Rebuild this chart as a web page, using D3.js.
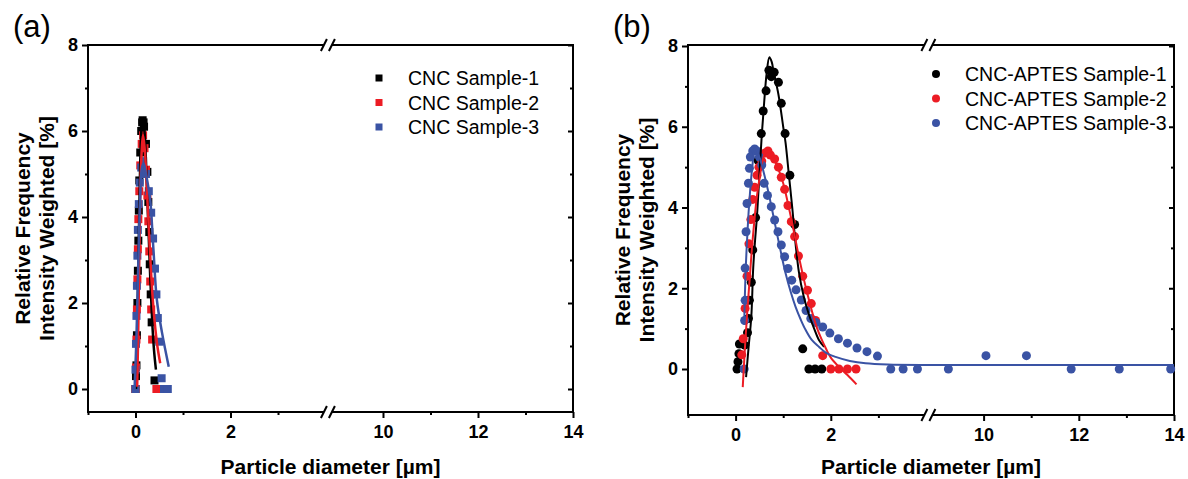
<!DOCTYPE html>
<html lang="en">
<head>
  <meta charset="UTF-8">
  <title>Particle size distribution</title>
  <script src="https://d3js.org/d3.v7.min.js"></script>
</head>
<body style="margin: 0; padding: 0; overflow: hidden; background: #fff;">
  <svg id="chart"></svg>

  <script>
    // broken x axis: -1..4.05 | 8.84..14
    const xDomain = [-1, 4.05, 8.84, 14];
    const xLabelTicks = [0, 2, 10, 12, 14];
    const xMinorTicks = [-1, 1, 3, 11, 13];
    const yLabelTicks = [0, 2, 4, 6, 8];
    const yMinorTicks = [1, 3, 5, 7];

    const cncNames = ["CNC Sample-1", "CNC Sample-2", "CNC Sample-3"];
    const aptesNames = ["CNC-APTES Sample-1", "CNC-APTES Sample-2", "CNC-APTES Sample-3"];
    const colors = ["#000000", "#ec1c24", "#3a53a4"];

    // (a) CNC, [diameter µm, %]
    const cnc1 = [[0.00,0.0],[0.01,0.3],[0.02,0.55],[0.03,1.25],[0.04,2.0],[0.05,2.75],[0.06,3.45],[0.07,4.15],[0.08,4.85],
      [0.10,5.5],[0.12,6.0],[0.14,6.2],[0.15,6.25],[0.17,6.2],[0.18,6.1],[0.22,5.7],[0.25,5.05],[0.27,4.35],[0.29,3.65],[0.30,2.9],
      [0.32,2.2],[0.34,1.55],[0.40,0.2]];
    const cnc2 = [[0.00,0.0],[0.01,0.5],[0.02,1.15],[0.03,1.85],[0.04,2.55],[0.05,3.25],[0.06,3.95],[0.08,4.6],
      [0.10,5.2],[0.13,5.7],[0.16,5.9],[0.19,5.6],[0.22,5.1],[0.25,4.5],[0.27,3.9],[0.29,3.2],[0.31,2.5],
      [0.33,1.85],[0.35,1.15],[0.44,0.0]];
    const cnc3 = [[0.00,0.0],[0.00,0.45],[0.01,1.05],[0.02,1.7],[0.03,2.4],[0.04,3.1],[0.05,3.7],[0.07,4.3],
      [0.09,4.8],[0.12,5.15],[0.16,5.3],[0.22,5.0],[0.28,4.6],[0.33,4.1],[0.37,3.5],[0.41,2.8],[0.44,2.2],
      [0.47,1.65],[0.50,1.1],[0.55,0.25],[0.60,0.0],[0.68,0.0]];
    const cnc1Fit = [[0.01,0.0],[0.04,1.5],[0.07,3.5],[0.10,5.3],[0.13,6.1],[0.16,6.3],[0.19,6.0],[0.23,5.0],
      [0.27,3.8],[0.31,2.6],[0.35,1.6],[0.39,0.9],[0.43,0.45]];
    const cnc2Fit = [[0.035,0.05],[0.06,1.5],[0.09,3.8],[0.12,5.3],[0.16,5.9],[0.20,5.5],[0.25,4.4],[0.30,3.3],
      [0.35,2.3],[0.40,1.6],[0.46,1.0],[0.52,0.6]];
    const cnc3Fit = [[-0.02,0.0],[0.02,1.2],[0.06,3.0],[0.10,4.5],[0.13,5.1],[0.17,5.25],[0.22,5.0],[0.27,4.7],
      [0.31,4.4],[0.38,3.2],[0.45,2.07],[0.56,1.3],[0.70,0.52]];

    // (b) CNC-APTES
    const aptes1 = [[0.03,0.0],[0.05,0.18],[0.07,0.38],[0.08,0.62],[0.19,0.59],[0.25,0.9],[0.27,1.25],[0.29,1.7],
      [0.33,2.15],[0.36,2.95],[0.42,3.75],[0.47,5.17],[0.54,5.83],[0.58,6.39],[0.64,6.89],[0.70,7.4],[0.75,7.24],
      [0.81,7.35],[0.90,7.1],[0.96,6.58],[1.04,5.83],[1.14,4.8],[1.24,3.58],[1.41,0.5],[1.54,0.0],[1.67,0.0],[1.81,0.0]];
    const aptes2 = [[0.13,0.35],[0.16,0.75],[0.20,1.5],[0.24,2.3],[0.28,3.1],[0.32,3.7],[0.36,4.2],[0.40,4.5],
      [0.45,4.8],[0.49,5.0],[0.55,5.15],[0.62,5.35],[0.68,5.4],[0.73,5.3],[0.82,5.2],[0.90,5.0],[0.96,4.75],
      [1.03,4.45],[1.10,4.05],[1.17,3.65],[1.24,3.28],[1.32,2.8],[1.41,2.3],[1.51,1.95],[1.59,1.62],[1.68,1.2],
      [1.83,0.33],[2.00,0.0],[2.17,0.0],[2.35,0.0],[2.53,0.0]];
    const aptes3 = [[0.18,0.0],[0.19,1.2],[0.20,1.7],[0.20,2.5],[0.22,3.4],[0.24,4.1],[0.27,4.6],[0.29,4.97],
      [0.31,5.25],[0.36,5.4],[0.40,5.45],[0.45,5.4],[0.50,5.25],[0.55,5.05],[0.60,4.6],[0.67,4.3],[0.75,4.02],
      [0.82,3.69],[0.89,3.4],[0.96,3.07],[1.03,2.78],[1.10,2.49],[1.18,2.2],[1.27,1.96],[1.38,1.71],[1.48,1.45],
      [1.58,1.25],[1.69,1.15],[1.83,1.04],[1.98,0.89],[2.16,0.75],[2.35,0.64],[2.55,0.52],[2.76,0.43],[2.98,0.32],
      [3.26,0.0],[3.52,0.0],[3.82,0.0],[9.26,0.0],[10.05,0.33],[10.9,0.33],[11.84,0.0],[12.85,0.0],[13.93,0.0]];
    const aptes1Fit = [[0.22,-0.2],[0.27,0.5],[0.33,1.3],[0.37,2.5],[0.41,3.2],[0.45,3.8],[0.50,4.8],[0.55,5.8],
      [0.60,6.6],[0.65,7.3],[0.71,7.72],[0.76,7.6],[0.80,7.35],[0.90,6.8],[1.00,6.0],[1.05,5.6],[1.12,4.8],
      [1.19,4.0],[1.26,3.1],[1.33,2.4],[1.43,1.8],[1.54,1.35],[1.65,1.0],[1.75,0.72],[1.86,0.55]];
    const aptes2Fit = [[0.15,-0.45],[0.20,0.6],[0.25,1.5],[0.30,2.3],[0.35,3.1],[0.40,3.75],[0.45,4.3],[0.50,4.7],
      [0.56,5.1],[0.62,5.35],[0.70,5.38],[0.80,5.2],[0.90,4.95],[1.00,4.6],[1.10,4.1],[1.20,3.55],[1.30,2.95],
      [1.40,2.4],[1.50,1.9],[1.60,1.45],[1.70,1.05],[1.80,0.75],[1.90,0.5],[2.00,0.28],[2.18,0.04],[2.35,-0.15],[2.54,-0.38]];
    const aptes3Fit = [[0.18,1.1],[0.21,2.4],[0.25,3.4],[0.28,4.0],[0.35,5.0],[0.41,5.47],[0.50,5.25],[0.63,4.68],
      [0.74,4.1],[0.84,3.52],[0.95,2.9],[1.05,2.37],[1.16,1.9],[1.26,1.54],[1.37,1.22],[1.47,0.97],[1.60,0.72],
      [1.75,0.55],[1.90,0.4],[2.10,0.3],[2.40,0.2],[2.73,0.14],[3.20,0.11],[4.00,0.1],[9.00,0.1],[14.0,0.1]];

    const W = 1188, H = 479;
    const FONT = "'Liberation Sans', Arial, sans-serif";

    const svg = d3.select("#chart").attr("width", W).attr("height", H);

    function drawPanel(p) {
      const g = svg.append("g");
      const brk = p.left + (xDomain[1] - xDomain[0]) / ((xDomain[1] - xDomain[0]) + (xDomain[3] - xDomain[2])) * (p.right - p.left);
      const x = d3.scaleLinear().domain(xDomain).range([p.left, brk, brk, p.right]);
      const y = d3.scaleLinear().domain([0, 8]).range([p.y0, p.y8]);

      // axes (ticks only, frame drawn below)
      function styleAxis(sel) {
        sel.select(".domain").remove();
        sel.selectAll("line").attr("stroke", "#000").attr("stroke-width", 2);
        sel.selectAll("text").attr("fill", "#000").style("font-family", FONT)
          .style("font-size", "18px").style("font-weight", "bold");
      }
      g.append("g").attr("transform", `translate(0,${p.bottom})`)
        .call(d3.axisBottom(x).tickValues(xLabelTicks).tickSize(6).tickPadding(7).tickFormat(d3.format("d")))
        .call(styleAxis);
      g.append("g").attr("transform", `translate(0,${p.bottom})`)
        .call(d3.axisBottom(x).tickValues(xMinorTicks).tickSize(3).tickFormat(""))
        .call(styleAxis);
      g.append("g").attr("transform", `translate(${p.left},0)`)
        .call(d3.axisLeft(y).tickValues(yLabelTicks).tickSize(6).tickPadding(4).tickFormat(d3.format("d")))
        .call(styleAxis);
      g.append("g").attr("transform", `translate(${p.left},0)`)
        .call(d3.axisLeft(y).tickValues(yMinorTicks).tickSize(3).tickFormat(""))
        .call(styleAxis);
      // mirror ticks on the right, pointing in
      g.append("g").attr("transform", `translate(${p.right},0)`)
        .call(d3.axisLeft(y).tickValues(yLabelTicks).tickSize(5).tickFormat(""))
        .call(styleAxis);
      g.append("g").attr("transform", `translate(${p.right},0)`)
        .call(d3.axisLeft(y).tickValues(yMinorTicks).tickSize(3).tickFormat(""))
        .call(styleAxis);

      // frame with axis breaks
      const frame = g.append("g").attr("stroke", "#000").attr("stroke-width", 2).attr("fill", "none");
      const gap = 4;
      [p.top, p.bottom].forEach(yy => {
        frame.append("line").attr("x1", p.left - 1).attr("x2", brk - gap).attr("y1", yy).attr("y2", yy);
        frame.append("line").attr("x1", brk + gap).attr("x2", p.right + 1).attr("y1", yy).attr("y2", yy);
        [-4, 4].forEach(dx => {
          frame.append("line")
            .attr("x1", brk + dx - 3).attr("y1", yy + 6)
            .attr("x2", brk + dx + 3).attr("y2", yy - 6);
        });
      });
      frame.append("line").attr("x1", p.left).attr("x2", p.left).attr("y1", p.top).attr("y2", p.bottom);
      frame.append("line").attr("x1", p.right).attr("x2", p.right).attr("y1", p.top).attr("y2", p.bottom);

      // data points
      p.series.forEach((s, i) => {
        if (p.marker === "square") {
          g.append("g").selectAll("rect").data(s).enter().append("rect")
            .attr("x", d => x(d[0]) - 4).attr("y", d => y(d[1]) - 4)
            .attr("width", 8).attr("height", 8).attr("fill", colors[i]);
        } else {
          g.append("g").selectAll("circle").data(s).enter().append("circle")
            .attr("cx", d => x(d[0])).attr("cy", d => y(d[1]))
            .attr("r", 4.5).attr("fill", colors[i]);
        }
      });

      // fit curves
      const line = d3.line().x(d => x(d[0])).y(d => y(d[1])).curve(d3.curveCatmullRom.alpha(0.5));
      p.fits.forEach((f, i) => {
        g.append("path").attr("d", line(f)).attr("fill", "none")
          .attr("stroke", colors[i]).attr("stroke-width", p.fitWidth);
      });

      // legend
      p.names.forEach((name, i) => {
        const ly = p.legendY + i * 24.5;
        if (p.marker === "square") {
          g.append("rect").attr("x", p.legendX - 3.5).attr("y", ly - 3.5)
            .attr("width", 7).attr("height", 7).attr("fill", colors[i]);
        } else {
          g.append("circle").attr("cx", p.legendX).attr("cy", ly).attr("r", 4).attr("fill", colors[i]);
        }
        g.append("text").attr("x", p.legendX + 29).attr("y", ly + 7)
          .style("font-family", FONT).style("font-size", "19.5px").text(name);
      });

      // titles
      const midY = (p.top + p.bottom) / 2;
      g.append("text").attr("transform", `translate(${p.left - 58},${midY}) rotate(-90)`)
        .attr("text-anchor", "middle").style("font-family", FONT).style("font-size", "21px")
        .style("font-weight", "bold").text("Relative Frequency");
      g.append("text").attr("transform", `translate(${p.left - 34},${midY}) rotate(-90)`)
        .attr("text-anchor", "middle").style("font-family", FONT).style("font-size", "21px")
        .style("font-weight", "bold").text("Intensity Weighted [%]");
      g.append("text").attr("x", (p.left + p.right) / 2).attr("y", 474)
        .attr("text-anchor", "middle").style("font-family", FONT).style("font-size", "21px")
        .style("font-weight", "bold").text("Particle diameter [µm]");
      g.append("text").attr("x", p.left - 75).attr("y", 37)
        .style("font-family", FONT).style("font-size", "31px").text(p.tag);
    }

    drawPanel({
      tag: "(a)", left: 88, right: 573, top: 45, bottom: 412, y0: 389, y8: 45,
      marker: "square", series: [cnc1, cnc2, cnc3], fits: [cnc1Fit, cnc2Fit, cnc3Fit], fitWidth: 2.5,
      names: cncNames, legendX: 379, legendY: 78
    });
    drawPanel({
      tag: "(b)", left: 688, right: 1174, top: 45, bottom: 415, y0: 369, y8: 46,
      marker: "circle", series: [aptes1, aptes2, aptes3], fits: [aptes1Fit, aptes2Fit, aptes3Fit], fitWidth: 2,
      names: aptesNames, legendX: 936, legendY: 74
    });
  </script>
</body>
</html>
